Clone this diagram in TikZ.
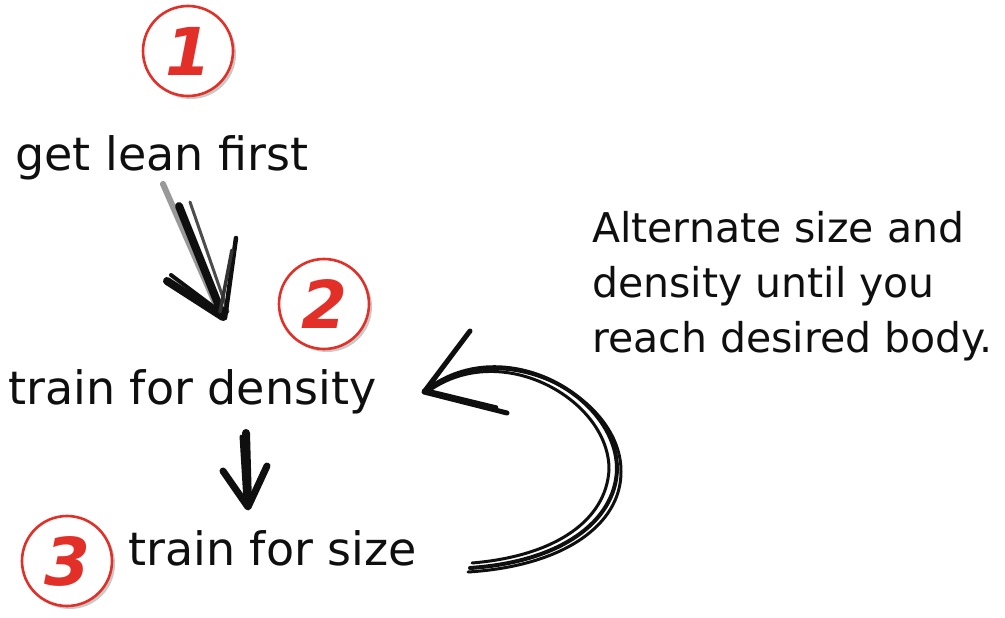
\documentclass[tikz,border=0pt]{standalone}
\usepackage{fontspec}
\setmainfont{DejaVu Sans}
\usetikzlibrary{shadows,calc}
\definecolor{numred}{RGB}{226,48,40}
\definecolor{ink}{RGB}{15,15,15}
\tikzset{
  numcircle/.style={circle, draw=numred, line width=2.6pt, fill=white,
    minimum size=90pt, inner sep=0pt,
    drop shadow={shadow xshift=3pt, shadow yshift=-3pt, opacity=0.35, fill=black!60},
    text=numred, font=\fontsize{66}{66}\selectfont\bfseries\itshape},
  steptext/.style={anchor=base west, inner sep=0pt, text=ink,
    font=\fontsize{46}{46}\selectfont},
  notetext/.style={anchor=base west, inner sep=0pt, text=ink,
    font=\fontsize{41}{41}\selectfont},
  inkstroke/.style={draw=ink, line cap=round, line join=round},
}
\begin{document}
\begin{tikzpicture}[x=1pt, y=-1pt]
\useasboundingbox[fill=white] (0,0) rectangle (1005,618);

% numbered circles
\node[numcircle] (n1) at (188,51) {1};
\node[numcircle] (n2) at (324,304) {2};
\node[numcircle] (n3) at (67,561) {3};

% step texts
\node[steptext] (t1) at (15,170) {get lean first};
\node[steptext] (t2) at (8,404) {train for density};
\node[steptext] (t3) at (128,565) {train for size};

% note text
\node[notetext] (m1) at (592,242) {Alternate size and};
\node[notetext] (m2) at (592,297) {density until you};
\node[notetext] (m3) at (592,352) {reach desired body.};

% arrow 1 coordinates
\coordinate (a1s) at (163,184);
\coordinate (a1t) at (225,318);
\coordinate (a1l) at (167,281);
\coordinate (a1r) at (236,238);
% sketchy arrow 1
\draw[inkstroke, draw=black!40, line width=6pt] (a1s) -- ($(a1t)+(-6,-6)$);
\draw[inkstroke, line width=8pt] ($(a1s)+(16,22)$) -- ($(a1t)+(-2,-2)$);
\draw[inkstroke, line width=3pt, draw=black!70] ($(a1s)+(27,18)$) -- ($(a1t)+(3,-6)$);
\draw[inkstroke, line width=8pt] (a1l) -- ($(a1t)+(-2,-1)$);
\draw[inkstroke, line width=4pt] ($(a1l)+(4,-6)$) -- ($(a1t)+(-2,-4)$);
\draw[inkstroke, line width=4.5pt] (a1r) -- (a1t);
\draw[inkstroke, line width=3.5pt, draw=black!80] ($(a1r)+(-4,12)$) -- ($(a1t)+(-5,-6)$);

% arrow 2
\coordinate (a2s) at (246,433);
\coordinate (a2t) at (248,507);
\coordinate (a2l) at (223,471);
\coordinate (a2r) at (267,466);
\draw[inkstroke, line width=8pt] (a2s) -- ($(a2t)+(0,-3)$);
\draw[inkstroke, line width=3pt] ($(a2s)+(-5,3)$) -- ($(a2t)+(-3,-6)$);
\draw[inkstroke, line width=7pt] (a2l) -- (a2t) -- (a2r);

% curved return arrow
\coordinate (cb) at (470,568);
\coordinate (cr) at (617,470);
\coordinate (ct) at (424,392);
\coordinate (cu) at (470,331);
\coordinate (cd) at (507,413);
\draw[inkstroke, line width=4pt] (cb) .. controls (560,562) and (615,522) .. (cr)
   .. controls (618,395) and (500,330) .. (ct);
\draw[inkstroke, line width=3pt] ($(cb)+(2,-5)$) .. controls (556,556) and (606,520) .. ($(cr)+(-8,0)$)
   .. controls (610,400) and (500,337) .. ($(ct)+(2,1)$);
\draw[inkstroke, line width=3pt] ($(cb)+(-2,4)$) .. controls (565,566) and (621,524) .. ($(cr)+(4,2)$)
   .. controls (622,398) and (505,333) .. ($(ct)+(-1,-1)$);
\draw[inkstroke, line width=5pt] (cu) -- (ct) -- (cd);
\draw[inkstroke, line width=3pt] ($(cu)+(-4,6)$) -- ($(ct)+(3,-2)$) -- ($(cd)+(-10,-6)$);
\end{tikzpicture}
\end{document}
